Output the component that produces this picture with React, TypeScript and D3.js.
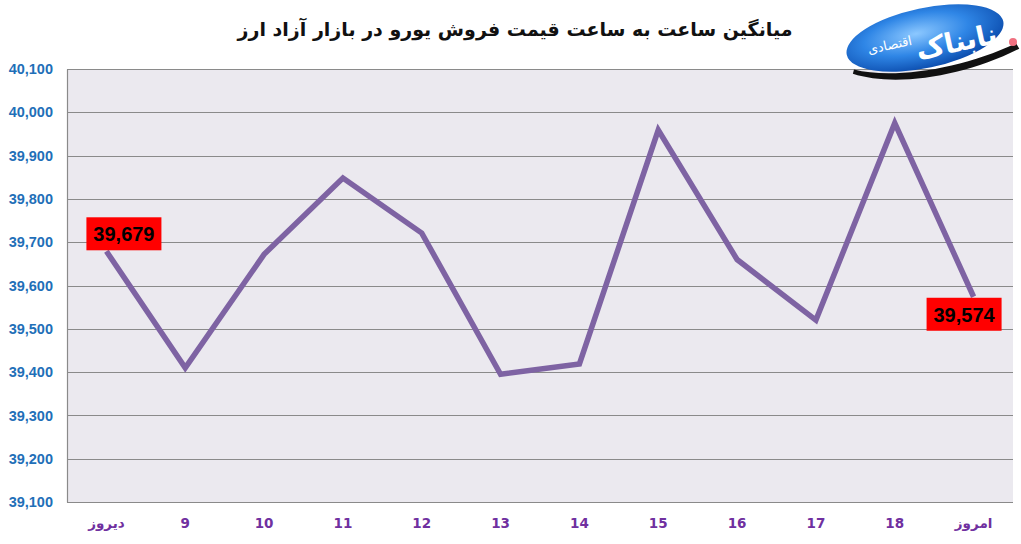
import { useEffect, useRef } from 'react';
import * as d3 from 'd3';

const TITLE = 'میانگین ساعت به ساعت قیمت فروش یورو در بازار آزاد ارز';
const CATEGORIES = ['دیروز', '9', '10', '11', '12', '13', '14', '15', '16', '17', '18', 'امروز'];
const PRICES = [39679, 39410, 39672, 39848, 39721, 39395, 39419, 39959, 39660, 39520, 39975, 39574];
const Y_TICKS = [39100, 39200, 39300, 39400, 39500, 39600, 39700, 39800, 39900, 40000, 40100];
// indexes that get the red value box, with their offset from the point
const LABELED = [
  { idx: 0, dx: -20, dy: -34 },
  { idx: 11, dx: -47, dy: 1 },
];

const WIDTH = 1021;
const HEIGHT = 544;

export default function App() {
  const svgRef = useRef<SVGSVGElement>(null);

  useEffect(() => {
    if (!svgRef.current) return;
    const svg = d3.select(svgRef.current);
    svg.selectAll('*').remove();

    const margin = { top: 69, right: 8, bottom: 42, left: 67 };
    const innerW = WIDTH - margin.left - margin.right;
    const innerH = HEIGHT - margin.top - margin.bottom;

    const x = d3.scaleBand<string>().domain(CATEGORIES).range([0, innerW]).padding(0);
    const y = d3.scaleLinear().domain([39100, 40100]).range([innerH, 0]);
    const cx = (c: string) => (x(c) || 0) + x.bandwidth() / 2;

    svg.append('rect').attr('width', WIDTH).attr('height', HEIGHT).attr('fill', '#ffffff');

    // title
    svg.append('text')
      .attr('x', 515)
      .attr('y', 36)
      .attr('text-anchor', 'middle')
      .attr('direction', 'rtl')
      .attr('font-family', '"DejaVu Sans", sans-serif')
      .attr('font-weight', 700)
      .attr('font-size', 19)
      .attr('fill', '#111')
      .text(TITLE);

    const g = svg.append('g').attr('transform', `translate(${margin.left},${margin.top})`);

    g.append('rect')
      .attr('width', innerW)
      .attr('height', innerH)
      .attr('fill', '#ebe9ef');

    g.append('g')
      .selectAll('line')
      .data(Y_TICKS)
      .enter()
      .append('line')
      .attr('x1', 0)
      .attr('x2', innerW)
      .attr('y1', d => Math.round(y(d)) + 0.5)
      .attr('y2', d => Math.round(y(d)) + 0.5)
      .attr('stroke', '#8a8a8a')
      .attr('stroke-width', 1.2);

    const yAxis = g.append('g')
      .call(d3.axisLeft(y).tickValues(Y_TICKS).tickSize(0).tickPadding(14).tickFormat(d3.format(',')));
    yAxis.select('.domain').attr('stroke', '#8a8a8a').attr('stroke-width', 1.2);
    yAxis.selectAll('text')
      .attr('fill', '#1f6fb8')
      .attr('font-family', '"Liberation Sans", Arial, sans-serif')
      .attr('font-weight', 700)
      .attr('font-size', 14.5);

    const xAxis = g.append('g')
      .attr('transform', `translate(0,${innerH})`)
      .call(d3.axisBottom(x).tickSize(0).tickPadding(16));
    xAxis.select('.domain').remove();
    xAxis.selectAll('text')
      .attr('fill', '#7030a0')
      .attr('font-family', '"DejaVu Sans", sans-serif')
      .attr('font-weight', 700)
      .attr('font-size', 13.5);

    const line = d3.line<number>()
      .x((_, i) => cx(CATEGORIES[i]))
      .y(d => y(d));

    g.append('path')
      .datum(PRICES)
      .attr('fill', 'none')
      .attr('stroke', '#7e63a3')
      .attr('stroke-width', 5.5)
      .attr('stroke-linejoin', 'miter')
      .attr('d', line);

    LABELED.forEach(({ idx, dx, dy }) => {
      const px = cx(CATEGORIES[idx]);
      const py = y(PRICES[idx]);
      const lg = g.append('g').attr('transform', `translate(${px + dx},${py + dy})`);
      lg.append('rect')
        .attr('width', 75)
        .attr('height', 33)
        .attr('fill', '#ff0000');
      lg.append('text')
        .attr('x', 37.5)
        .attr('y', 24)
        .attr('text-anchor', 'middle')
        .attr('font-family', '"Liberation Sans", Arial, sans-serif')
        .attr('font-weight', 700)
        .attr('font-size', 20)
        .attr('fill', '#000')
        .text(d3.format(',')(PRICES[idx]));
    });

    // logo
    const defs = svg.append('defs');
    const grad = defs.append('radialGradient').attr('id', 'logoGrad').attr('cx', '45%').attr('cy', '40%').attr('r', '60%');
    grad.append('stop').attr('offset', '0%').attr('stop-color', '#8cc8ff');
    grad.append('stop').attr('offset', '55%').attr('stop-color', '#2f86e6');
    grad.append('stop').attr('offset', '100%').attr('stop-color', '#0d4fb0');

    const logo = svg.append('g').attr('transform', 'translate(925,38) rotate(-12)');
    logo.append('ellipse').attr('rx', 80).attr('ry', 30).attr('fill', 'url(#logoGrad)');
    logo.append('path')
      .attr('d', 'M-76,16 C-40,34 30,38 88,24 L90,30 C30,46 -40,42 -78,20 Z')
      .attr('fill', '#111');
    logo.append('text')
      .attr('x', 30)
      .attr('y', 20)
      .attr('text-anchor', 'middle')
      .attr('direction', 'rtl')
      .attr('font-family', '"DejaVu Sans", sans-serif')
      .attr('font-weight', 700)
      .attr('font-size', 28)
      .attr('fill', '#ffffff')
      .text('نابناک');
    logo.append('text')
      .attr('x', -36)
      .attr('y', 4)
      .attr('text-anchor', 'middle')
      .attr('direction', 'rtl')
      .attr('font-family', '"DejaVu Sans", sans-serif')
      .attr('font-size', 13)
      .attr('fill', '#ffffff')
      .text('اقتصادی');
    svg.append('circle').attr('cx', 1013).attr('cy', 42).attr('r', 4).attr('fill', '#f07080');
  }, []);

  return (
    <svg ref={svgRef} width={WIDTH} height={HEIGHT} style={{ display: 'block', position: 'absolute', left: 0, top: 0 }} />
  );
}
